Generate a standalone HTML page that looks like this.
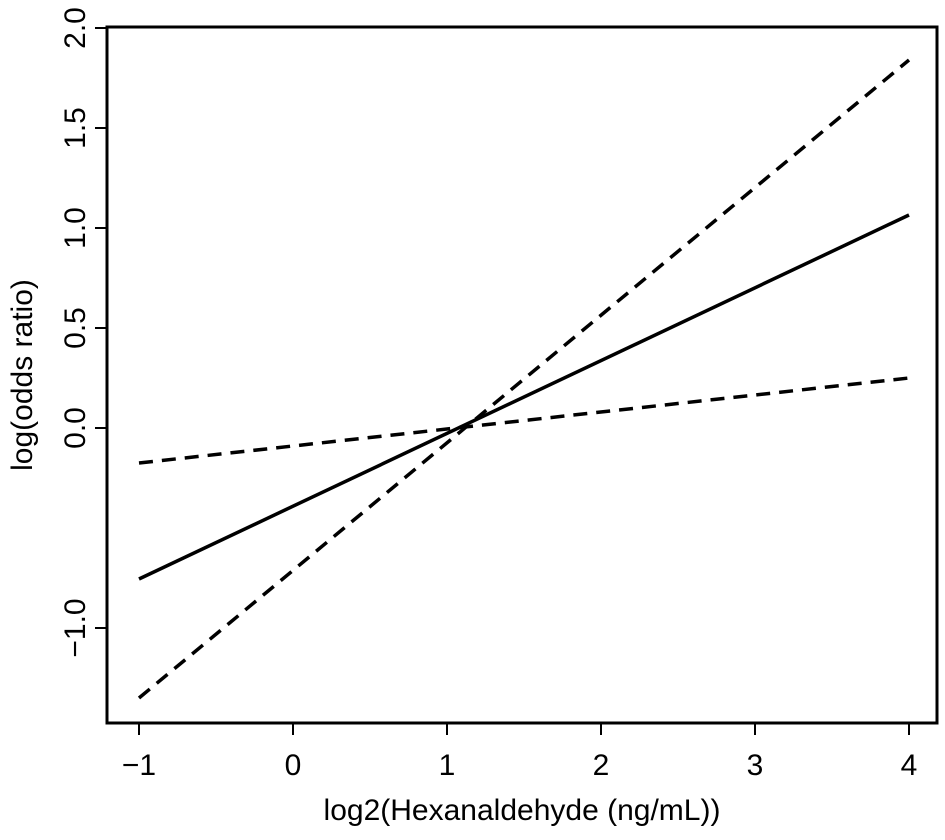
<!DOCTYPE html>
<html><head><meta charset="utf-8"><style>
html,body{margin:0;padding:0;background:#fff;}
svg{display:block;font-family:"Liberation Sans",sans-serif;}
</style></head><body>
<svg id="chart" width="945" height="840"></svg>
<script>
const xTicks=[-1,0,1,2,3,4];
const yTicks=[-1.0,0.0,0.5,1.0,1.5,2.0];
const yTickLabels=["\u22121.0","0.0","0.5","1.0","1.5","2.0"];
const xEnds=[-1,4];
const estimate=[-0.755,1.065];
const upperCI=[-1.35,1.84];
const lowerCI=[-0.175,0.25];
const X=v=>139+(v+1)*154;
const Y=v=>428-v*200;
const svg=document.getElementById('chart');
const NS='http://www.w3.org/2000/svg';
function mk(t,a){const e=document.createElementNS(NS,t);for(const k in a)e.setAttribute(k,a[k]);svg.appendChild(e);return e;}
const box=mk('rect',{x:107,y:27,width:830,height:696,fill:'none',stroke:'#000','stroke-width':3});


xTicks.forEach(v=>{
 const t=mk('line',{x1:X(v),x2:X(v),y1:723,y2:735,stroke:'#000','stroke-width':2});
 
 
 const l=mk('text',{x:X(v),y:775,'font-size':30,'text-anchor':'middle'});
 l.textContent=v<0?'\u2212'+(-v):String(v);
 
 
});
yTicks.forEach((v,i)=>{
 const t=mk('line',{x1:95,x2:107,y1:Y(v),y2:Y(v),stroke:'#000','stroke-width':2});
 
 
 const l=mk('text',{x:0,y:0,'font-size':30,'text-anchor':'middle',transform:`translate(85,${Y(v)}) rotate(-90)`});
 l.textContent=yTickLabels[i];
 
 
});
const xt=mk('text',{x:522,y:820,'font-size':30,'text-anchor':'middle'});
xt.textContent='log2(Hexanaldehyde (ng/mL))';


const yt=mk('text',{x:0,y:0,'font-size':30,'text-anchor':'middle',transform:'translate(32,375) rotate(-90)'});
yt.textContent='log(odds ratio)';


function line(vals,dash,name){
 const a={x1:X(xEnds[0]),y1:Y(vals[0]),x2:X(xEnds[1]),y2:Y(vals[1]),stroke:'#000','stroke-width':3.5};
 if(dash)a['stroke-dasharray']='14 9';
 const e=mk('line',a);
 
 
}
line(estimate,false,'estimate-line');
line(upperCI,true,'upper-ci-line');
line(lowerCI,true,'lower-ci-line');
</script>
</body></html>
